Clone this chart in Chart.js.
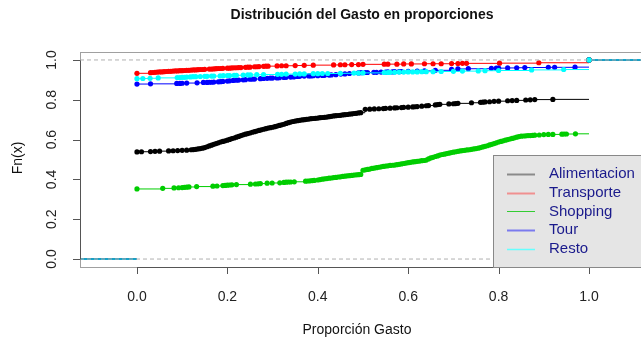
<!DOCTYPE html>
<html>
<head>
<meta charset="utf-8">
<script src="https://cdn.jsdelivr.net/npm/chart.js@4"></script>
<style>
  body { margin: 0; background: #fff; }
  #wrap { width: 641px; height: 345px; }
</style>
</head>
<body>
<div id="wrap"><canvas id="graficoGasto" width="641" height="345"></canvas></div>
<script>
const categorias = ['Alimentacion', 'Transporte', 'Shopping', 'Tour', 'Resto'];

// nodos de cada ecdf: [proporcion, Fn(x)]
const alimentacion = [[0.00,0.538],[0.01,0.539],[0.03,0.540],[0.04,0.541],[0.05,0.542],[0.07,0.543],[0.08,0.544],[0.09,0.545],[0.10,0.546],[0.11,0.547],[0.12,0.549],[0.125,0.550],[0.13,0.551],[0.135,0.553],[0.14,0.555],[0.145,0.557],[0.15,0.560],[0.155,0.564],[0.16,0.568],[0.165,0.572],[0.17,0.576],[0.175,0.580],[0.18,0.584],[0.185,0.588],[0.19,0.591],[0.195,0.594],[0.20,0.597],[0.205,0.601],[0.21,0.605],[0.215,0.608],[0.22,0.612],[0.225,0.616],[0.23,0.620],[0.235,0.624],[0.24,0.627],[0.245,0.630],[0.25,0.633],[0.255,0.637],[0.26,0.640],[0.265,0.643],[0.27,0.646],[0.275,0.649],[0.28,0.652],[0.285,0.655],[0.29,0.658],[0.295,0.660],[0.30,0.662],[0.305,0.665],[0.31,0.668],[0.315,0.671],[0.32,0.674],[0.325,0.677],[0.33,0.681],[0.335,0.685],[0.34,0.688],[0.345,0.691],[0.35,0.693],[0.355,0.695],[0.36,0.697],[0.365,0.699],[0.37,0.700],[0.375,0.702],[0.38,0.703],[0.385,0.705],[0.39,0.706],[0.395,0.707],[0.40,0.708],[0.405,0.710],[0.41,0.711],[0.415,0.712],[0.42,0.713],[0.425,0.715],[0.43,0.717],[0.435,0.719],[0.44,0.720],[0.445,0.721],[0.45,0.722],[0.455,0.724],[0.46,0.725],[0.465,0.726],[0.47,0.728],[0.475,0.729],[0.48,0.731],[0.485,0.732],[0.49,0.734],[0.495,0.735],[0.505,0.752],[0.515,0.753],[0.525,0.754],[0.535,0.755],[0.545,0.756],[0.55,0.757],[0.56,0.758],[0.57,0.759],[0.575,0.760],[0.585,0.761],[0.59,0.762],[0.60,0.763],[0.61,0.764],[0.615,0.765],[0.62,0.766],[0.63,0.768],[0.64,0.770],[0.645,0.771],[0.66,0.774],[0.665,0.776],[0.67,0.777],[0.69,0.779],[0.70,0.780],[0.705,0.781],[0.71,0.782],[0.74,0.785],[0.76,0.787],[0.765,0.788],[0.77,0.789],[0.78,0.790],[0.79,0.792],[0.80,0.793],[0.82,0.795],[0.83,0.796],[0.84,0.797],[0.86,0.799],[0.87,0.800],[0.88,0.801],[0.92,0.802]];

const transporte = [[0.00,0.933],[0.03,0.936],[0.035,0.937],[0.04,0.938],[0.045,0.939],[0.05,0.940],[0.055,0.940],[0.06,0.941],[0.065,0.942],[0.07,0.943],[0.075,0.943],[0.08,0.944],[0.085,0.945],[0.09,0.945],[0.095,0.946],[0.10,0.946],[0.105,0.947],[0.11,0.948],[0.115,0.948],[0.12,0.949],[0.125,0.950],[0.13,0.950],[0.135,0.951],[0.14,0.952],[0.145,0.952],[0.15,0.953],[0.16,0.954],[0.165,0.954],[0.17,0.955],[0.175,0.956],[0.18,0.957],[0.185,0.957],[0.19,0.958],[0.20,0.959],[0.205,0.959],[0.21,0.960],[0.215,0.961],[0.22,0.961],[0.225,0.962],[0.23,0.962],[0.24,0.963],[0.245,0.964],[0.25,0.964],[0.26,0.966],[0.265,0.966],[0.27,0.967],[0.28,0.968],[0.285,0.969],[0.29,0.969],[0.31,0.970],[0.32,0.971],[0.33,0.971],[0.35,0.972],[0.37,0.973],[0.39,0.974],[0.435,0.975],[0.45,0.976],[0.46,0.976],[0.475,0.977],[0.49,0.977],[0.50,0.978],[0.547,0.979],[0.555,0.979],[0.575,0.979],[0.59,0.980],[0.607,0.980],[0.636,0.981],[0.655,0.981],[0.673,0.981],[0.696,0.982],[0.71,0.982],[0.72,0.983],[0.729,0.983],[0.802,0.984],[0.889,0.986]];

const shopping = [[0.00,0.352],[0.057,0.355],[0.082,0.357],[0.092,0.358],[0.10,0.359],[0.105,0.360],[0.11,0.361],[0.115,0.362],[0.132,0.364],[0.168,0.366],[0.177,0.367],[0.19,0.369],[0.195,0.370],[0.20,0.371],[0.205,0.372],[0.21,0.373],[0.22,0.374],[0.251,0.376],[0.262,0.377],[0.268,0.378],[0.273,0.379],[0.288,0.381],[0.299,0.382],[0.316,0.383],[0.325,0.385],[0.33,0.386],[0.335,0.387],[0.34,0.387],[0.348,0.388],[0.373,0.391],[0.378,0.392],[0.383,0.393],[0.388,0.394],[0.392,0.395],[0.40,0.397],[0.405,0.399],[0.41,0.401],[0.415,0.403],[0.42,0.404],[0.425,0.406],[0.43,0.407],[0.435,0.409],[0.44,0.410],[0.445,0.412],[0.45,0.413],[0.455,0.415],[0.46,0.416],[0.465,0.418],[0.47,0.419],[0.475,0.420],[0.48,0.422],[0.485,0.423],[0.49,0.424],[0.495,0.425],[0.50,0.446],[0.505,0.448],[0.51,0.450],[0.515,0.452],[0.52,0.455],[0.525,0.457],[0.53,0.459],[0.535,0.461],[0.54,0.463],[0.545,0.465],[0.55,0.467],[0.555,0.468],[0.56,0.470],[0.565,0.471],[0.57,0.472],[0.575,0.474],[0.58,0.476],[0.585,0.478],[0.59,0.480],[0.595,0.482],[0.60,0.484],[0.605,0.486],[0.61,0.488],[0.615,0.489],[0.62,0.491],[0.625,0.492],[0.63,0.494],[0.635,0.495],[0.64,0.497],[0.645,0.503],[0.65,0.508],[0.655,0.511],[0.66,0.515],[0.665,0.518],[0.67,0.522],[0.675,0.525],[0.68,0.527],[0.685,0.530],[0.69,0.532],[0.695,0.535],[0.70,0.537],[0.705,0.539],[0.71,0.541],[0.715,0.543],[0.72,0.545],[0.725,0.546],[0.73,0.548],[0.735,0.549],[0.74,0.551],[0.745,0.553],[0.75,0.555],[0.755,0.557],[0.76,0.560],[0.765,0.563],[0.77,0.566],[0.775,0.569],[0.78,0.573],[0.785,0.576],[0.79,0.580],[0.795,0.584],[0.80,0.588],[0.805,0.591],[0.81,0.594],[0.815,0.597],[0.82,0.600],[0.825,0.603],[0.83,0.606],[0.835,0.609],[0.84,0.612],[0.845,0.615],[0.85,0.617],[0.855,0.618],[0.86,0.619],[0.865,0.620],[0.87,0.620],[0.875,0.621],[0.88,0.622],[0.89,0.623],[0.90,0.625],[0.91,0.626],[0.92,0.626],[0.94,0.627],[0.945,0.628],[0.95,0.628],[0.97,0.629]];

const tour = [[0.00,0.879],[0.03,0.880],[0.088,0.882],[0.095,0.882],[0.10,0.883],[0.11,0.884],[0.133,0.885],[0.147,0.887],[0.155,0.887],[0.16,0.888],[0.165,0.888],[0.17,0.889],[0.18,0.890],[0.185,0.891],[0.19,0.892],[0.20,0.894],[0.205,0.895],[0.213,0.897],[0.22,0.898],[0.225,0.899],[0.235,0.900],[0.24,0.901],[0.25,0.903],[0.255,0.904],[0.26,0.904],[0.273,0.906],[0.28,0.907],[0.288,0.908],[0.295,0.909],[0.30,0.909],[0.31,0.910],[0.315,0.911],[0.325,0.912],[0.33,0.913],[0.34,0.914],[0.347,0.915],[0.355,0.917],[0.36,0.918],[0.37,0.919],[0.38,0.920],[0.385,0.920],[0.39,0.921],[0.40,0.921],[0.41,0.922],[0.415,0.923],[0.425,0.924],[0.43,0.925],[0.44,0.926],[0.451,0.929],[0.46,0.930],[0.47,0.932],[0.49,0.935],[0.496,0.936],[0.505,0.937],[0.51,0.937],[0.524,0.938],[0.53,0.938],[0.54,0.939],[0.55,0.939],[0.555,0.940],[0.565,0.940],[0.57,0.941],[0.58,0.941],[0.585,0.942],[0.60,0.943],[0.62,0.944],[0.636,0.945],[0.66,0.948],[0.696,0.953],[0.71,0.955],[0.733,0.956],[0.784,0.958],[0.795,0.959],[0.80,0.959],[0.82,0.960],[0.84,0.961],[0.858,0.962],[0.91,0.963],[0.924,0.963],[0.969,0.964]];

const resto = [[0.00,0.906],[0.013,0.907],[0.029,0.908],[0.047,0.910],[0.089,0.912],[0.095,0.912],[0.10,0.913],[0.105,0.913],[0.11,0.914],[0.118,0.915],[0.124,0.916],[0.13,0.916],[0.14,0.917],[0.15,0.918],[0.155,0.918],[0.165,0.919],[0.17,0.919],[0.184,0.920],[0.191,0.921],[0.20,0.922],[0.205,0.922],[0.215,0.923],[0.22,0.923],[0.235,0.924],[0.245,0.925],[0.251,0.925],[0.265,0.926],[0.28,0.927],[0.311,0.928],[0.32,0.928],[0.33,0.929],[0.35,0.929],[0.36,0.930],[0.37,0.930],[0.39,0.931],[0.40,0.931],[0.41,0.932],[0.422,0.932],[0.45,0.933],[0.48,0.934],[0.49,0.934],[0.50,0.935],[0.547,0.937],[0.555,0.937],[0.56,0.938],[0.57,0.938],[0.58,0.939],[0.59,0.939],[0.60,0.940],[0.61,0.940],[0.62,0.940],[0.63,0.941],[0.64,0.941],[0.655,0.941],[0.673,0.942],[0.70,0.943],[0.72,0.944],[0.755,0.945],[0.77,0.946],[0.80,0.947],[0.873,0.950],[0.944,0.952]];

const ticksX = [0, 0.2, 0.4, 0.6, 0.8, 1.0];
const ticksY = [0, 0.2, 0.4, 0.6, 0.8, 1.0];

const series = [alimentacion, transporte, shopping, tour, resto];
const colores = ['#000000', '#ff0000', '#00cd00', '#0000ff', '#00ffff'];
const coloresLeyenda = ['#8a8a8a', '#f09090', '#33cc33', '#7a7aee', '#66ffff'];
const anchoLeyenda = [2, 2, 1, 2, 1.5];

const X_MIN = -0.126, X_MAX = 1.115;

// escalones horizontales sin verticales, como plot.ecdf
function escalones(nodos) {
  const pts = [{x: X_MIN, y: 0}, {x: nodos[0][0], y: 0}, {x: nodos[0][0], y: null}];
  nodos.forEach((n, i) => {
    const sig = i + 1 < nodos.length ? nodos[i + 1][0] : 1.0;
    pts.push({x: n[0], y: n[1], k: true});
    pts.push({x: sig, y: n[1]});
    pts.push({x: sig, y: null});
  });
  pts.push({x: 1.0, y: 1.0, k: true});
  pts.push({x: X_MAX, y: 1.0});
  return pts;
}

const datasets = series.map((s, i) => ({
  label: categorias[i],
  data: escalones(s),
  showLine: true,
  spanGaps: false,
  borderColor: colores[i],
  backgroundColor: colores[i],
  borderWidth: 1,
  pointRadius: c => (c.raw && c.raw.k ? 2.6 : 0),
  pointBorderWidth: 0,
  order: categorias.length - i
}));

datasets.push({
  label: 'ref',
  data: [{x: X_MIN, y: 0}, {x: X_MAX, y: 0}, {x: X_MAX, y: null}, {x: X_MIN, y: 1}, {x: X_MAX, y: 1}],
  showLine: true,
  spanGaps: false,
  borderColor: '#b0b0b0',
  borderWidth: 1,
  borderDash: [4, 3],
  pointRadius: 0,
  order: 0
});

const FUENTE = '"Liberation Sans", Arial, sans-serif';

const ejesR = {
  id: 'ejesR',
  afterDraw(chart) {
    const ctx = chart.ctx;
    const a = chart.chartArea;
    const sx = chart.scales.x, sy = chart.scales.y;
    ctx.save();
    // caja
    ctx.strokeStyle = '#a0a0a0';
    ctx.lineWidth = 1;
    ctx.strokeRect(a.left + 0.5, a.top + 0.5, a.right - a.left + 10, a.bottom - a.top);

    ctx.strokeStyle = '#555';
    ctx.fillStyle = '#222';
    ctx.font = '14px ' + FUENTE;
    // eje x
    const x0 = sx.getPixelForValue(ticksX[0]), x1 = sx.getPixelForValue(ticksX[ticksX.length - 1]);
    ctx.beginPath();
    ctx.moveTo(Math.round(x0) + 0.5, a.bottom + 0.5);
    ctx.lineTo(Math.round(x1) + 0.5, a.bottom + 0.5);
    ticksX.forEach(v => {
      const px = Math.round(sx.getPixelForValue(v)) + 0.5;
      ctx.moveTo(px, a.bottom);
      ctx.lineTo(px, a.bottom + 7);
    });
    ctx.stroke();
    ctx.textAlign = 'center';
    ctx.textBaseline = 'middle';
    ticksX.forEach(v => ctx.fillText(v.toFixed(1), sx.getPixelForValue(v), a.bottom + 30));

    // eje y
    const y0 = sy.getPixelForValue(ticksY[0]), y1 = sy.getPixelForValue(ticksY[ticksY.length - 1]);
    ctx.beginPath();
    ctx.moveTo(a.left + 0.5, Math.round(y0) + 0.5);
    ctx.lineTo(a.left + 0.5, Math.round(y1) + 0.5);
    ticksY.forEach(v => {
      const py = Math.round(sy.getPixelForValue(v)) + 0.5;
      ctx.moveTo(a.left, py);
      ctx.lineTo(a.left - 7, py);
    });
    ctx.stroke();
    ticksY.forEach(v => {
      ctx.save();
      ctx.translate(a.left - 28, sy.getPixelForValue(v));
      ctx.rotate(-Math.PI / 2);
      ctx.fillText(v.toFixed(1), 0, 0);
      ctx.restore();
    });

    // titulos
    ctx.fillStyle = '#111';
    ctx.fillText('Proporción Gasto', 357, 330);
    ctx.save();
    ctx.translate(18, 158);
    ctx.rotate(-Math.PI / 2);
    ctx.fillText('Fn(x)', 0, 0);
    ctx.restore();
    ctx.font = 'bold 14px ' + FUENTE;
    ctx.fillText('Distribución del Gasto en proporciones', 362, 15);

    // leyenda
    const lx = 493, ly = 155;
    ctx.fillStyle = '#e5e5e5';
    ctx.fillRect(lx, ly, 160, a.bottom - ly);
    ctx.strokeStyle = '#888';
    ctx.strokeRect(lx + 0.5, ly + 0.5, 160, a.bottom - ly);
    ctx.font = '15px ' + FUENTE;
    ctx.textAlign = 'left';
    categorias.forEach((nom, i) => {
      const yy = 174 + i * 18.7;
      ctx.strokeStyle = coloresLeyenda[i];
      ctx.lineWidth = anchoLeyenda[i];
      ctx.beginPath();
      ctx.moveTo(507, Math.round(yy) + 0.5);
      ctx.lineTo(535, Math.round(yy) + 0.5);
      ctx.stroke();
      ctx.fillStyle = '#1a1a8c';
      ctx.fillText(nom, 549, yy);
    });
    ctx.restore();
  }
};

new Chart(document.getElementById('graficoGasto'), {
  type: 'scatter',
  data: { datasets: datasets },
  options: {
    responsive: false,
    animation: false,
    layout: { padding: { left: 80, top: 52, right: 0, bottom: 78 } },
    plugins: {
      legend: { display: false },
      tooltip: { enabled: false },
      title: { display: false }
    },
    scales: {
      x: { type: 'linear', min: X_MIN, max: X_MAX, display: false },
      y: { type: 'linear', min: -0.04, max: 1.04, display: false }
    }
  },
  plugins: [ejesR]
});
</script>
</body>
</html>
